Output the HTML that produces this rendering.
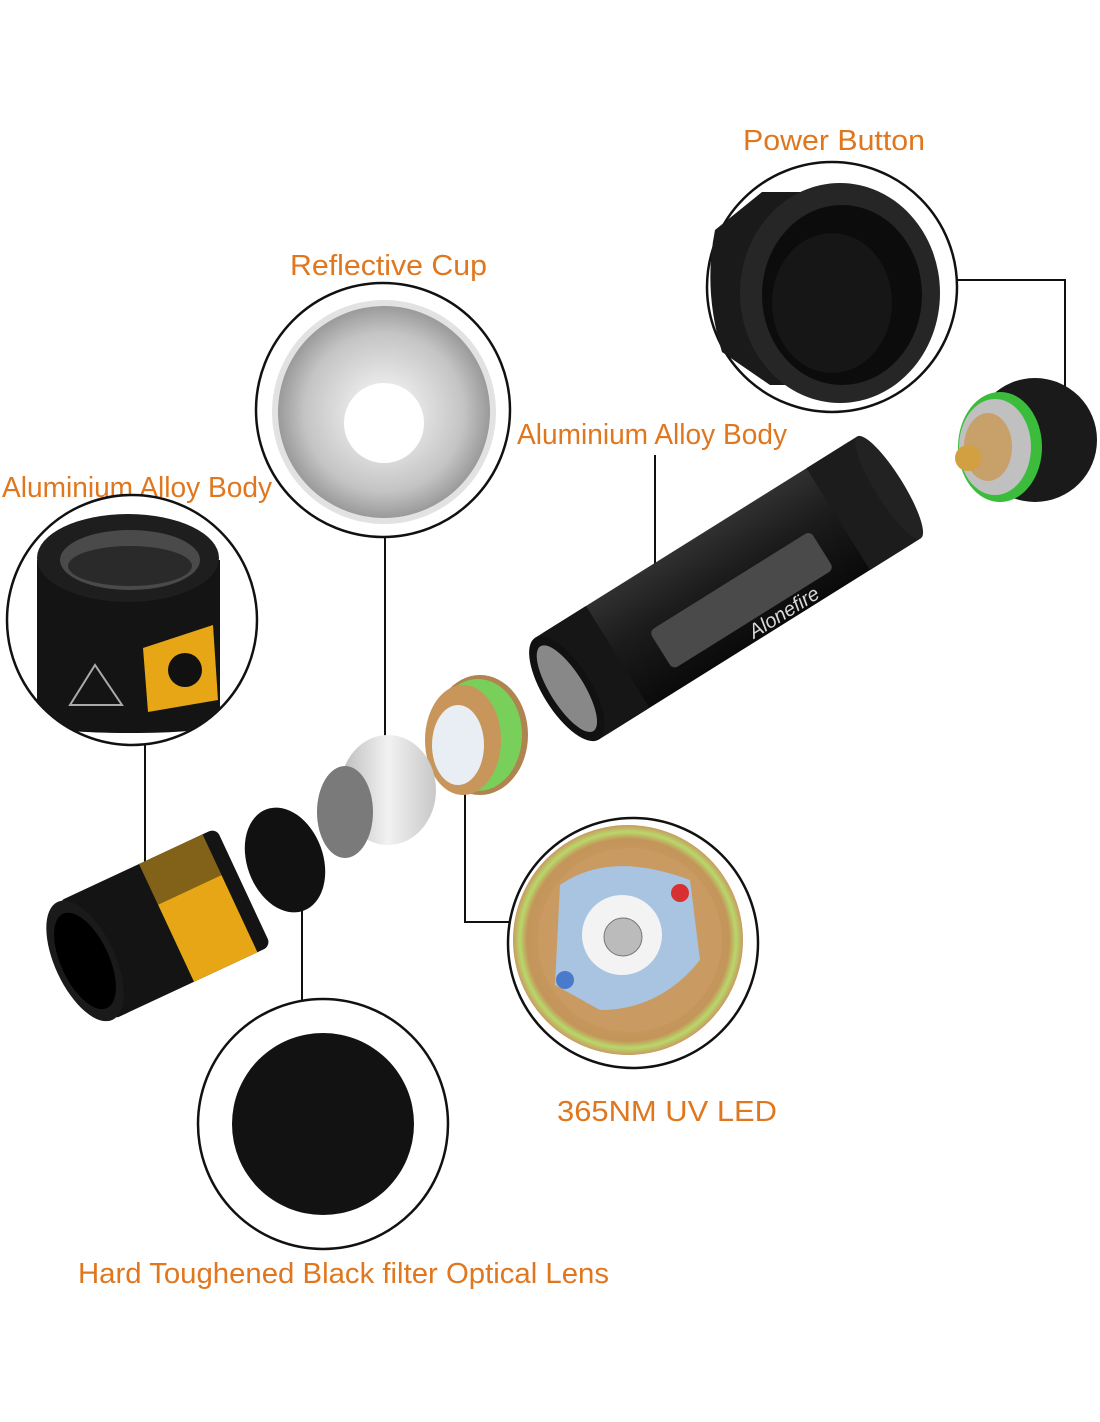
<!DOCTYPE html>
<html><head><meta charset="utf-8"><style>
html,body{margin:0;padding:0;background:#fff;}
svg{display:block}
text{font-family:"Liberation Sans",sans-serif;fill:#e0771f;font-size:29px}
</style></head><body>
<svg width="1100" height="1422" viewBox="0 0 1100 1422" xmlns="http://www.w3.org/2000/svg">
<defs>
<radialGradient id="silver" cx="50%" cy="50%" r="50%"><stop offset="0.3" stop-color="#e6e6e6"/><stop offset="0.75" stop-color="#c4c4c4"/><stop offset="1" stop-color="#9a9a9a"/></radialGradient>
<radialGradient id="brass" cx="50%" cy="50%" r="50%"><stop offset="0" stop-color="#d8aa72"/><stop offset="0.88" stop-color="#c4955a"/><stop offset="0.94" stop-color="#b8d86a"/><stop offset="1" stop-color="#c89a60"/></radialGradient>
<linearGradient id="body" x1="0" y1="0" x2="0" y2="1"><stop offset="0" stop-color="#303030"/><stop offset="0.4" stop-color="#1c1c1c"/><stop offset="1" stop-color="#0a0a0a"/></linearGradient>
<linearGradient id="cupg" x1="0" y1="0" x2="1" y2="0"><stop offset="0" stop-color="#bbb"/><stop offset="0.5" stop-color="#f2f2f2"/><stop offset="1" stop-color="#c8c8c8"/></linearGradient>
<clipPath id="lc"><circle cx="132" cy="620" r="124"/></clipPath>
</defs>

<text x="743" y="150" textLength="182" lengthAdjust="spacingAndGlyphs">Power Button</text>
<text x="290" y="275" textLength="197" lengthAdjust="spacingAndGlyphs">Reflective Cup</text>
<text x="517" y="444" textLength="270" lengthAdjust="spacingAndGlyphs">Aluminium Alloy Body</text>
<text x="2" y="497" textLength="270" lengthAdjust="spacingAndGlyphs">Aluminium Alloy Body</text>
<text x="557" y="1121" textLength="220" lengthAdjust="spacingAndGlyphs">365NM UV LED</text>
<text x="78" y="1283" textLength="531" lengthAdjust="spacingAndGlyphs">Hard Toughened Black filter Optical Lens</text>

<g stroke="#111" stroke-width="2" fill="none">
<polyline points="958,280 1065,280 1065,395"/>
<line x1="385" y1="537" x2="385" y2="792"/>
<line x1="655" y1="455" x2="655" y2="572"/>
<line x1="145" y1="733" x2="145" y2="872"/>
<polyline points="465,790 465,922 510,922"/>
<line x1="302" y1="885" x2="302" y2="1000"/>
</g>

<!-- Power button circle -->
<circle cx="832" cy="287" r="125" fill="#fff" stroke="#111" stroke-width="2.5"/>
<path d="M715,230 Q703,290 722,352 L770,385 L820,385 L820,192 L762,192 Z" fill="#1a1a1a"/>
<ellipse cx="840" cy="293" rx="100" ry="110" fill="#262626"/>
<ellipse cx="842" cy="295" rx="80" ry="90" fill="#0c0c0c"/>
<ellipse cx="832" cy="303" rx="60" ry="70" fill="#161616"/>

<!-- Reflective cup circle -->
<circle cx="383" cy="410" r="127" fill="#fff" stroke="#111" stroke-width="2.5"/>
<circle cx="384" cy="412" r="112" fill="#e2e2e2"/>
<circle cx="384" cy="412" r="106" fill="url(#silver)"/>
<circle cx="384" cy="423" r="40" fill="#fff"/>

<!-- Left body circle -->
<circle cx="132" cy="620" r="125" fill="#fff" stroke="#111" stroke-width="2.5"/>
<g clip-path="url(#lc)">
<path d="M37,560 L37,725 Q60,733 130,733 Q200,733 220,725 L220,560 Z" fill="#141414"/>
<ellipse cx="128" cy="558" rx="91" ry="44" fill="#1e1e1e"/>
<ellipse cx="130" cy="560" rx="70" ry="30" fill="#4a4a4a"/>
<ellipse cx="130" cy="566" rx="62" ry="20" fill="#2a2a2a"/>
<path d="M143,648 L213,625 L218,700 L148,712 Z" fill="#e6a615"/>
<circle cx="185" cy="670" r="17" fill="#111"/>
<path d="M70,705 L95,665 L122,705 Z" fill="none" stroke="#aaa" stroke-width="2"/>
</g>

<!-- LED circle -->
<circle cx="633" cy="943" r="125" fill="#fff" stroke="#111" stroke-width="2.5"/>
<circle cx="628" cy="940" r="115" fill="url(#brass)"/>
<circle cx="630" cy="940" r="92" fill="#c99a62"/>
<path d="M560,885 Q610,850 690,880 L700,960 Q660,1010 600,1010 L555,985 Z" fill="#a8c4e0"/>
<circle cx="622" cy="935" r="40" fill="#f3f3f3"/>
<circle cx="623" cy="937" r="19" fill="#bbb" stroke="#777"/>
<circle cx="680" cy="893" r="9" fill="#d83030"/>
<circle cx="565" cy="980" r="9" fill="#4a7acc"/>

<!-- Bottom lens circle -->
<circle cx="323" cy="1124" r="125" fill="#fff" stroke="#111" stroke-width="2.5"/>
<circle cx="323" cy="1124" r="91" fill="#121212"/>

<!-- Flashlight main body -->
<g transform="translate(728,588) rotate(-32)">
<rect x="-190" y="-60" width="380" height="120" rx="10" fill="url(#body)"/>
<rect x="-190" y="-60" width="60" height="120" fill="#161616"/>
<rect x="130" y="-60" width="60" height="120" fill="#1c1c1c"/>
<rect x="-90" y="-5" width="190" height="45" rx="6" fill="#4a4a4a"/>
<ellipse cx="-190" cy="0" rx="24" ry="60" fill="#111"/>
<ellipse cx="-190" cy="0" rx="17" ry="50" fill="#888"/>
<ellipse cx="190" cy="0" rx="14" ry="60" fill="#222"/>
</g>
<text x="740" y="620" transform="rotate(-32 780 605)" style="fill:#d8d8d8;font-size:20px;font-style:italic">Alonefire</text>

<!-- tail cap -->
<ellipse cx="1035" cy="440" rx="62" ry="62" fill="#1a1a1a"/>
<ellipse cx="1000" cy="447" rx="42" ry="55" fill="#3bbd3b"/>
<ellipse cx="995" cy="447" rx="36" ry="48" fill="#c0c0c0"/>
<ellipse cx="988" cy="447" rx="24" ry="34" fill="#c7a06a"/>
<circle cx="968" cy="458" r="13" fill="#d2a040"/>

<!-- LED module -->
<ellipse cx="480" cy="735" rx="48" ry="60" fill="#b08450"/>
<ellipse cx="478" cy="735" rx="44" ry="56" fill="#78d05a"/>
<ellipse cx="463" cy="740" rx="38" ry="55" fill="#c8955a"/>
<ellipse cx="458" cy="745" rx="26" ry="40" fill="#e8eef4"/>

<!-- Cup cylinder -->
<ellipse cx="388" cy="790" rx="48" ry="55" fill="url(#cupg)"/>
<ellipse cx="345" cy="812" rx="28" ry="46" fill="#7a7a7a"/>

<!-- filter disc -->
<ellipse cx="285" cy="860" rx="38" ry="54" transform="rotate(-20 285 860)" fill="#111"/>

<!-- head cylinder -->
<g transform="translate(162,925) rotate(-25)">
<rect x="-85" y="-65" width="175" height="130" rx="8" fill="#141414"/>
<rect x="5" y="-65" width="70" height="130" fill="#e6a615"/>
<rect x="5" y="-65" width="70" height="45" fill="#1e1e1e" opacity="0.5"/>
<ellipse cx="-85" cy="0" rx="30" ry="65" fill="#1a1a1a"/>
<ellipse cx="-85" cy="0" rx="24" ry="52" fill="#000"/>
</g>
</svg>
</body></html>
